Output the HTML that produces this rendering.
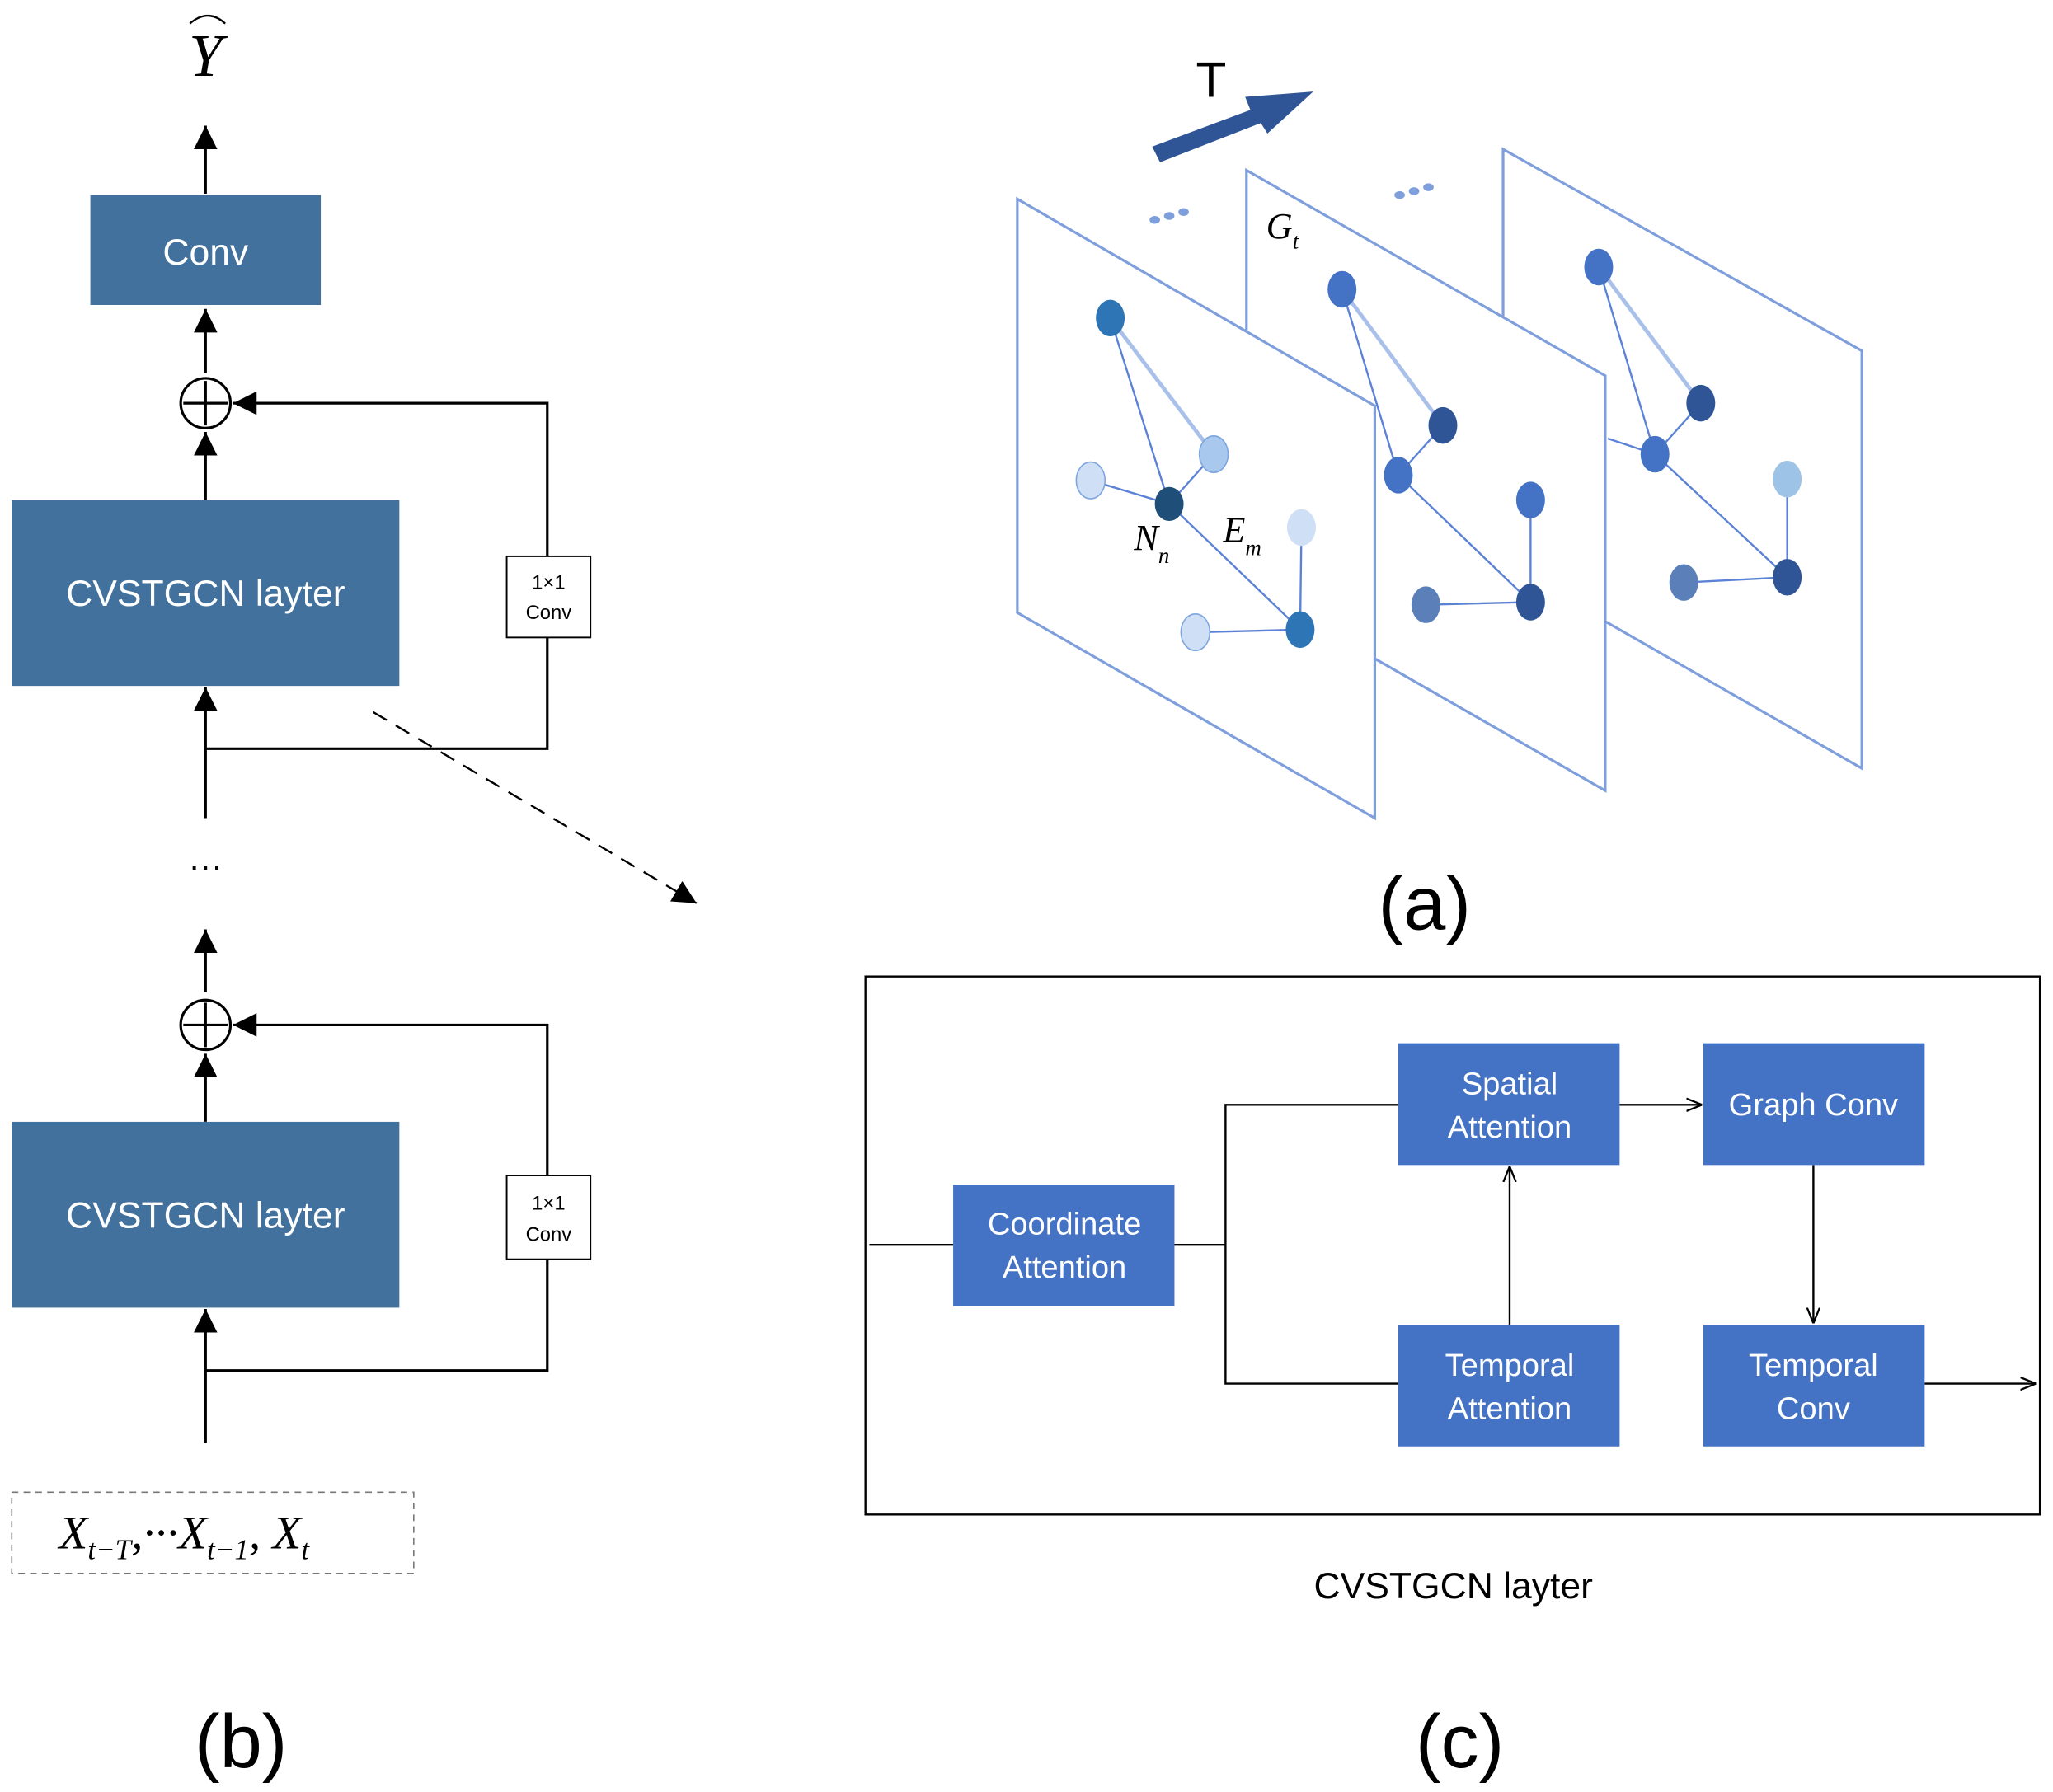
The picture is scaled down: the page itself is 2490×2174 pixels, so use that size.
<!DOCTYPE html>
<html><head><meta charset="utf-8"><style>html,body{margin:0;padding:0;background:#fff}svg{display:block}</style></head><body>
<svg width="2490" height="2174" viewBox="0 0 1568 1369" xmlns="http://www.w3.org/2000/svg" font-family="Liberation Sans, DejaVu Sans, sans-serif">
<defs>
<marker id="ah" viewBox="0 0 10 10" refX="9" refY="5" markerWidth="8" markerHeight="8" orient="auto-start-reverse" markerUnits="userSpaceOnUse"><path d="M0,0 L10,5 L0,10 z" fill="#000"/></marker>
<marker id="ah2" viewBox="0 0 10 10" refX="10" refY="5" markerWidth="18" markerHeight="18" orient="auto" markerUnits="userSpaceOnUse"><path d="M0,0 L10,5 L0,10 z" fill="#000"/></marker>
<marker id="ao" viewBox="0 0 10 10" refX="10" refY="5" markerWidth="12" markerHeight="12" orient="auto" markerUnits="userSpaceOnUse"><path d="M0,1 L10,5 L0,9" fill="none" stroke="#000" stroke-width="1.2"/></marker>
</defs>
<!-- (b) -->
<text x="157" y="58" font-family="Liberation Serif, serif" font-style="italic" font-size="46" text-anchor="middle">Y</text>
<path d="M145,18 Q159,6 172,18" fill="none" stroke="#000" stroke-width="1.5"/>
<g stroke="#000" stroke-width="2" fill="none">
<line x1="157" y1="148" x2="157" y2="96" marker-end="url(#ah2)"/>
<line x1="157" y1="285" x2="157" y2="236" marker-end="url(#ah2)"/>
<line x1="157" y1="382" x2="157" y2="330" marker-end="url(#ah2)"/>
<line x1="157" y1="625" x2="157" y2="525" marker-end="url(#ah2)"/>
<line x1="157" y1="758" x2="157" y2="710" marker-end="url(#ah2)"/>
<line x1="157" y1="857" x2="157" y2="805" marker-end="url(#ah2)"/>
<line x1="157" y1="1102" x2="157" y2="1000" marker-end="url(#ah2)"/>
<circle cx="157" cy="308" r="19"/><line x1="140" y1="308" x2="174" y2="308"/><line x1="157" y1="291" x2="157" y2="325"/>
<circle cx="157" cy="783" r="19"/><line x1="140" y1="783" x2="174" y2="783"/><line x1="157" y1="766" x2="157" y2="800"/>
<polyline points="418,425 418,308 178,308" marker-end="url(#ah2)"/>
<polyline points="418,487 418,572 157,572"/>
<polyline points="418,898 418,783 178,783" marker-end="url(#ah2)"/>
<polyline points="418,962 418,1047 157,1047"/>
<line x1="285" y1="544" x2="532" y2="690" stroke-dasharray="12,8" stroke-width="1.5" marker-end="url(#ah2)"/>
</g>
<rect x="69" y="149" width="176" height="84" fill="#41719c"/>
<text x="157" y="202" fill="#fff" font-size="28" text-anchor="middle">Conv</text>
<rect x="9" y="382" width="296" height="142" fill="#41719c"/>
<text x="157" y="463" fill="#fff" font-size="28" text-anchor="middle">CVSTGCN layter</text>
<rect x="9" y="857" width="296" height="142" fill="#41719c"/>
<text x="157" y="938" fill="#fff" font-size="28" text-anchor="middle">CVSTGCN layter</text>
<rect x="387" y="425" width="64" height="62" fill="#fff" stroke="#000" stroke-width="1.2"/>
<text x="419" y="450" font-size="15" text-anchor="middle">1×1</text><text x="419" y="473" font-size="15" text-anchor="middle">Conv</text>
<rect x="387" y="898" width="64" height="64" fill="#fff" stroke="#000" stroke-width="1.2"/>
<text x="419" y="924" font-size="15" text-anchor="middle">1×1</text><text x="419" y="948" font-size="15" text-anchor="middle">Conv</text>
<text x="157" y="670" font-size="26" text-anchor="middle">···</text>
<rect x="9" y="1140" width="307" height="62" fill="none" stroke="#777" stroke-dasharray="5,4"/>
<text x="45" y="1183" font-family="Liberation Serif, serif" font-style="italic" font-size="36">X<tspan font-size="22" dy="8">t−T</tspan><tspan dy="-8">,···X</tspan><tspan font-size="22" dy="8">t−1</tspan><tspan dy="-8">, X</tspan><tspan font-size="22" dy="8">t</tspan></text>
<text x="184" y="1350" font-size="58" text-anchor="middle">(b)</text>
<!-- (c) -->
<rect x="661" y="746" width="897" height="411" fill="none" stroke="#000" stroke-width="1.5"/>
<g stroke="#000" stroke-width="1.5" fill="none">
<line x1="664" y1="951" x2="728" y2="951"/>
<line x1="897" y1="951" x2="936" y2="951"/>
<polyline points="1068,844 936,844 936,1057 1068,1057"/>
<line x1="1153" y1="1012" x2="1153" y2="891" marker-end="url(#ao)"/>
<line x1="1237" y1="844" x2="1300" y2="844" marker-end="url(#ao)"/>
<line x1="1385" y1="890" x2="1385" y2="1011" marker-end="url(#ao)"/>
<line x1="1470" y1="1057" x2="1555" y2="1057" marker-end="url(#ao)"/>
</g>
<g fill="#4472c4"><rect x="728" y="905" width="169" height="93"/><rect x="1068" y="797" width="169" height="93"/><rect x="1301" y="797" width="169" height="93"/><rect x="1068" y="1012" width="169" height="93"/><rect x="1301" y="1012" width="169" height="93"/></g>
<g fill="#fff" font-size="24" text-anchor="middle">
<text x="813" y="943">Coordinate</text><text x="813" y="976">Attention</text>
<text x="1153" y="836">Spatial</text><text x="1153" y="869">Attention</text>
<text x="1385" y="852">Graph Conv</text>
<text x="1153" y="1051">Temporal</text><text x="1153" y="1084">Attention</text>
<text x="1385" y="1051">Temporal</text><text x="1385" y="1084">Conv</text>
</g>
<text x="1110" y="1221" font-size="28" text-anchor="middle">CVSTGCN layter</text>
<text x="1115" y="1350" font-size="58" text-anchor="middle">(c)</text>
<!-- (a) -->
<g stroke="#7f9fdc" stroke-width="2" fill="#fff">
<polygon points="1148,114 1422,268 1422,587 1148,430"/>
<polygon points="952,130 1226,287 1226,604 952,447"/>
<polygon points="777,152 1050,310 1050,625 777,468"/>
</g>
<g stroke="#5b82d6" stroke-width="1.5">
<line x1="848" y1="243" x2="893" y2="385"/><line x1="848" y1="243" x2="927" y2="347" stroke="#a9c1ea" stroke-width="3"/>
<line x1="893" y1="385" x2="927" y2="347"/><line x1="833" y1="367" x2="893" y2="385"/>
<line x1="893" y1="385" x2="993" y2="481"/><line x1="994" y1="403" x2="993" y2="481"/><line x1="913" y1="483" x2="993" y2="481"/>
<line x1="1025" y1="221" x2="1068" y2="363"/><line x1="1025" y1="221" x2="1102" y2="325" stroke="#a9c1ea" stroke-width="3"/>
<line x1="1068" y1="363" x2="1102" y2="325"/><line x1="1068" y1="363" x2="1169" y2="460"/><line x1="1169" y1="382" x2="1169" y2="460"/><line x1="1089" y1="462" x2="1169" y2="460"/>
<line x1="1221" y1="204" x2="1264" y2="347"/><line x1="1221" y1="204" x2="1299" y2="308" stroke="#a9c1ea" stroke-width="3"/>
<line x1="1264" y1="347" x2="1299" y2="308"/><line x1="1228" y1="335" x2="1264" y2="347"/><line x1="1264" y1="347" x2="1365" y2="441"/><line x1="1365" y1="366" x2="1365" y2="441"/><line x1="1286" y1="445" x2="1365" y2="441"/>
</g>
<g>
<ellipse cx="848" cy="243" rx="11" ry="14" fill="#2e75b6"/><ellipse cx="927" cy="347" rx="11" ry="14" fill="#a9c8ee" stroke="#7ea6e0"/><ellipse cx="833" cy="367" rx="11" ry="14" fill="#cfe0f6" stroke="#7ea6e0"/><ellipse cx="893" cy="385" rx="11" ry="13" fill="#1f4e79"/><ellipse cx="994" cy="403" rx="11" ry="14" fill="#cfe0f6"/><ellipse cx="913" cy="483" rx="11" ry="14" fill="#cfe0f6" stroke="#7ea6e0"/><ellipse cx="993" cy="481" rx="11" ry="14" fill="#2e75b6"/>
<ellipse cx="1025" cy="221" rx="11" ry="14" fill="#4472c4"/><ellipse cx="1102" cy="325" rx="11" ry="14" fill="#2f5597"/><ellipse cx="1068" cy="363" rx="11" ry="14" fill="#4472c4"/><ellipse cx="1169" cy="382" rx="11" ry="14" fill="#4472c4"/><ellipse cx="1089" cy="462" rx="11" ry="14" fill="#5b7fb8"/><ellipse cx="1169" cy="460" rx="11" ry="14" fill="#2f5597"/>
<ellipse cx="1221" cy="204" rx="11" ry="14" fill="#4472c4"/><ellipse cx="1299" cy="308" rx="11" ry="14" fill="#2f5597"/><ellipse cx="1264" cy="347" rx="11" ry="14" fill="#4472c4"/><ellipse cx="1365" cy="366" rx="11" ry="14" fill="#9dc3e6"/><ellipse cx="1286" cy="445" rx="11" ry="14" fill="#5b7fb8"/><ellipse cx="1365" cy="441" rx="11" ry="14" fill="#2f5597"/>
</g>
<g fill="#7f9fdc"><ellipse cx="882" cy="168" rx="4" ry="3"/><ellipse cx="893" cy="165" rx="4" ry="3"/><ellipse cx="904" cy="162" rx="4" ry="3"/><ellipse cx="1069" cy="149" rx="4" ry="3"/><ellipse cx="1080" cy="146" rx="4" ry="3"/><ellipse cx="1091" cy="143" rx="4" ry="3"/></g>
<g font-family="Liberation Serif, serif" font-style="italic" font-size="28">
<text x="866" y="420">N<tspan font-size="17" dy="10">n</tspan></text>
<text x="934" y="414">E<tspan font-size="17" dy="10">m</tspan></text>
<text x="967" y="182">G<tspan font-size="17" dy="8">t</tspan></text>
</g>
<polygon points="880,112 955,84 951,74 1003,70 968,102 963,94 886,124" fill="#2f5597"/>
<text x="925" y="74" font-size="38" text-anchor="middle">T</text>
<text x="1088" y="710" font-size="58" text-anchor="middle">(a)</text>
</svg>
</body></html>
